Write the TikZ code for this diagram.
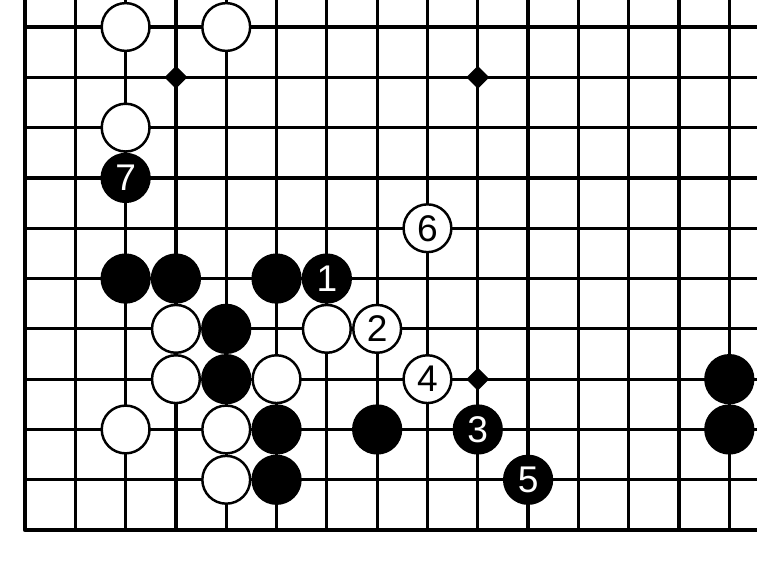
\documentclass[tikz,border=0pt]{standalone}
\usepackage{fontspec}
\setmainfont{Liberation Sans}
\usepackage{tikz}
\usetikzlibrary{shapes.geometric}

\begin{document}
\begin{tikzpicture}[x=1cm,y=1cm,
	stone/.style={circle,minimum size=0.95cm,inner sep=0pt,line width=1.4pt,font=\fontsize{21}{21}\selectfont},
	wstone/.style={stone,draw=black,fill=white,text=black},
	bstone/.style={stone,draw=black,fill=black,text=white},
	hoshi/.style={diamond,fill=black,minimum width=0.46cm,minimum height=0.46cm,inner sep=0pt}]
		\useasboundingbox (-0.497,-0.596) rectangle (14.61,10.537);
		% board
		\draw[line width=1.8pt] (0,0) grid (14.56,10.537);
		\draw[line width=2.6pt,line join=round] (0,10.537) -- (0,0) -- (14.56,0);
		\node[hoshi] (h1) at (3,9) {};
		\node[hoshi] (h2) at (9,9) {};
		\node[hoshi] (h3) at (9,3) {};
		%
		% white stones
		\node[wstone] (W1) at (2,10) {};
		\node[wstone] (W2) at (4,10) {};
		\node[wstone] (W3) at (2,8) {};
		\node[wstone] (W4) at (3,4) {};
		\node[wstone] (W5) at (6,4) {};
		\node[wstone] (W6) at (3,3) {};
		\node[wstone] (W7) at (5,3) {};
		\node[wstone] (W8) at (2,2) {};
		\node[wstone] (W9) at (4,2) {};
		\node[wstone] (W10) at (4,1) {};
		%
		% black stones
		\node[bstone] (B1) at (2,5) {};
		\node[bstone] (B2) at (3,5) {};
		\node[bstone] (B3) at (5,5) {};
		\node[bstone] (B4) at (4,4) {};
		\node[bstone] (B5) at (4,3) {};
		\node[bstone] (B6) at (5,2) {};
		\node[bstone] (B7) at (7,2) {};
		\node[bstone] (B8) at (5,1) {};
		\node[bstone] (B9) at (14,3) {};
		\node[bstone] (B10) at (14,2) {};
		%
		% moves
		\node[bstone] (m1) at (6,5) {1};
		\node[wstone] (m2) at (7,4) {2};
		\node[bstone] (m3) at (9,2) {3};
		\node[wstone] (m4) at (8,3) {4};
		\node[bstone] (m5) at (10,1) {5};
		\node[wstone] (m6) at (8,6) {6};
		\node[bstone] (m7) at (2,7) {7};
\end{tikzpicture}
\end{document}
